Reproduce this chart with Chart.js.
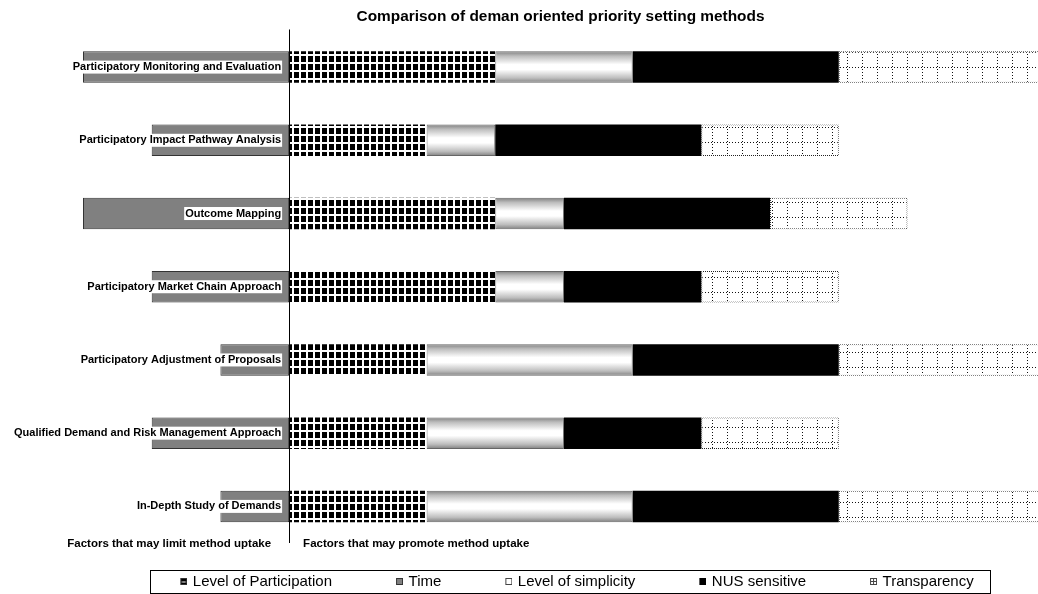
<!DOCTYPE html>
<html>
<head>
<meta charset="utf-8">
<script src="https://cdn.jsdelivr.net/npm/chart.js@4/dist/chart.umd.min.js"></script>
<style>
  body { margin: 0; background: #fff; }
</style>
</head>
<body>
<canvas id="chart" width="1038" height="594"></canvas>
<script>
// Methods, top to bottom
const methods = [
  'Participatory Monitoring and Evaluation',
  'Participatory Impact Pathway Analysis',
  'Outcome Mapping',
  'Participatory Market Chain Approach',
  'Participatory Adjustment of Proposals',
  'Qualified Demand and Risk Management Approach',
  'In-Depth Study of Demands'
];
const seriesNames = ['Level of Participation', 'Time', 'Level of simplicity', 'NUS sensitive', 'Transparency'];
const participation = [3, 2, 3, 3, 2, 2, 2];
const time = [-3, -2, -3, -2, -1, -2, -1];
const simplicity = [2, 1, 1, 1, 3, 2, 3];
const nusSensitive = [3, 3, 3, 2, 3, 2, 3];
const transparency = [3, 2, 2, 2, 3, 2, 3];
const axisMin = -3;
const axisMax = 10.9;

const leftCaption = 'Factors that may limit method uptake';
const rightCaption = 'Factors that may promote method uptake';

const FONT = '"Liberation Sans", Arial, sans-serif';
const BAR_PCT = 0.43;
Chart.defaults.font.family = FONT;
Chart.defaults.color = '#000';

const canvas = document.getElementById('chart');
const ctx = canvas.getContext('2d');

// small helper to paint a tile on an offscreen canvas
function makeTile(w, h, draw) {
  const c = document.createElement('canvas');
  c.width = w;
  c.height = h;
  draw(c.getContext('2d'));
  return c;
}

// black squares with white gaps
const squaresPattern = ctx.createPattern(makeTile(7, 8, g => {
  g.fillStyle = '#fff';
  g.fillRect(0, 0, 7, 8);
  g.fillStyle = '#000';
  g.fillRect(0, 0, 5, 6);
}), 'repeat');

// white with dotted grid
const dottedGrid = ctx.createPattern(makeTile(15, 15, g => {
  g.fillStyle = '#fff';
  g.fillRect(0, 0, 15, 15);
  g.fillStyle = '#111';
  for (let i = 0; i < 15; i += 3) {
    g.fillRect(7, i, 1, 1);
    g.fillRect(i, 7, 1, 1);
  }
}), 'repeat');

// dotted border
const dottedBorder = ctx.createPattern(makeTile(2, 2, g => {
  g.fillStyle = '#fff';
  g.fillRect(0, 0, 2, 2);
  g.fillStyle = '#222';
  g.fillRect(0, 0, 1, 1);
  g.fillRect(1, 1, 1, 1);
}), 'repeat');

// grey-white-grey tube gradient for each bar
function tubeFill(c) {
  const chart = c.chart;
  const y = chart.scales && chart.scales.y;
  if (!chart.chartArea || !y) return '#d8d8d8';
  const mid = y.getPixelForValue(c.dataIndex || 0);
  const half = Math.abs(y.getPixelForValue(1) - y.getPixelForValue(0)) * BAR_PCT / 2;
  if (!isFinite(mid) || !isFinite(half)) return '#d8d8d8';
  const g = chart.ctx.createLinearGradient(0, mid - half, 0, mid + half);
  g.addColorStop(0, '#7f7f7f');
  g.addColorStop(0.15, '#bdbdbd');
  g.addColorStop(0.42, '#ffffff');
  g.addColorStop(0.58, '#ffffff');
  g.addColorStop(0.85, '#bdbdbd');
  g.addColorStop(1, '#7f7f7f');
  return g;
}

// legend icons: blank space on the left, small square at the right end
// (the image is a bit wider than the legend box so the square sits close to the text)
const ICON_W = 38;
const ICON_IMG_W = ICON_W + 4;
function legendIcon(draw) {
  return makeTile(ICON_IMG_W, 9, g => {
    g.translate(ICON_IMG_W - 7 + 0.5, 1.5);
    draw(g);
  });
}
const legendIcons = [
  legendIcon(g => {
    g.fillStyle = '#000'; g.fillRect(0, 0, 6, 6);
    g.strokeStyle = '#333'; g.strokeRect(0, 0, 6, 6);
    g.strokeStyle = '#fff'; g.beginPath(); g.moveTo(1, 3.5); g.lineTo(5, 3.5); g.stroke();
  }),
  legendIcon(g => {
    g.fillStyle = '#808080'; g.fillRect(0, 0, 6, 6);
    g.strokeStyle = '#333'; g.strokeRect(0, 0, 6, 6);
  }),
  legendIcon(g => {
    g.fillStyle = '#fff'; g.fillRect(0, 0, 6, 6);
    g.strokeStyle = '#444'; g.strokeRect(0, 0, 6, 6);
  }),
  legendIcon(g => {
    g.fillStyle = '#000'; g.fillRect(-0.5, -0.5, 7, 7);
  }),
  legendIcon(g => {
    g.fillStyle = '#fff'; g.fillRect(0, 0, 6, 6);
    g.strokeStyle = '#444'; g.strokeRect(0, 0, 6, 6);
    g.fillStyle = '#444'; g.fillRect(2.5, 0, 1, 6); g.fillRect(0, 2.5, 6, 1);
  })
];

// method names on the bars, zero line, captions and legend frame
const decorations = {
  id: 'decorations',
  afterDatasetsDraw(chart) {
    const { ctx, chartArea, scales: { x, y } } = chart;
    const zero = x.getPixelForValue(0);
    ctx.save();
    ctx.font = 'bold 11px ' + FONT;
    ctx.textAlign = 'right';
    ctx.textBaseline = 'middle';
    methods.forEach((name, i) => {
      const cy = y.getPixelForValue(i);
      const w = ctx.measureText(name).width;
      ctx.fillStyle = '#fff';
      ctx.fillRect(zero - 9 - w, cy - 6.5, w + 2, 13);
      ctx.fillStyle = '#000';
      ctx.fillText(name, zero - 8, cy);
    });

    const lx = Math.round(zero) + 0.5;
    ctx.strokeStyle = '#000';
    ctx.lineWidth = 1;
    ctx.beginPath();
    ctx.moveTo(lx, chartArea.top - 1);
    ctx.lineTo(lx, chartArea.bottom);
    ctx.stroke();
    ctx.restore();
  },
  afterDraw(chart) {
    const { ctx, chartArea, scales: { x } } = chart;
    const zero = x.getPixelForValue(0);
    ctx.save();
    ctx.font = 'bold 11.5px ' + FONT;
    ctx.fillStyle = '#000';
    ctx.textBaseline = 'middle';
    ctx.textAlign = 'right';
    ctx.fillText(leftCaption, zero - 18, chartArea.bottom + 1);
    ctx.textAlign = 'left';
    ctx.fillText(rightCaption, zero + 14, chartArea.bottom + 1);

    const boxes = chart.legend.legendHitBoxes;
    if (boxes && boxes.length) {
      const first = boxes[0];
      const last = boxes[boxes.length - 1];
      const left = Math.round(first.left + ICON_W - 35) + 0.5;
      const right = Math.round(last.left + last.width + 16) + 0.5;
      const top = Math.round(first.top - 4) + 0.5;
      ctx.strokeStyle = '#000';
      ctx.lineWidth = 1;
      ctx.strokeRect(left, top, right - left, 23);
    }
    ctx.restore();
  }
};

const common = { borderSkipped: false, barPercentage: BAR_PCT, categoryPercentage: 1 };

new Chart(ctx, {
  type: 'bar',
  data: {
    labels: methods,
    datasets: [
      { ...common, label: seriesNames[0], data: participation, backgroundColor: squaresPattern, borderWidth: 0 },
      { ...common, label: seriesNames[1], data: time, backgroundColor: '#808080', borderColor: '#333', borderWidth: 1 },
      { ...common, label: seriesNames[2], data: simplicity, backgroundColor: tubeFill, borderColor: '#666', borderWidth: 1 },
      { ...common, label: seriesNames[3], data: nusSensitive, backgroundColor: '#000', borderWidth: 0 },
      { ...common, label: seriesNames[4], data: transparency, backgroundColor: dottedGrid, borderColor: dottedBorder, borderWidth: 1 }
    ]
  },
  options: {
    indexAxis: 'y',
    responsive: false,
    animation: false,
    layout: { padding: { left: 83, right: 0, top: 0, bottom: 0 } },
    scales: {
      x: { stacked: true, min: axisMin, max: axisMax, display: false },
      y: { stacked: true, display: false }
    },
    plugins: {
      title: {
        display: true,
        text: 'Comparison of deman oriented priority setting methods',
        color: '#000',
        font: { size: 15.4, weight: 'bold' },
        padding: { top: 8, bottom: 4 }
      },
      legend: {
        position: 'bottom',
        maxHeight: 51,
        labels: {
          color: '#000',
          font: { size: 15 },
          usePointStyle: true,
          pointStyleWidth: ICON_W,
          padding: 31,
          generateLabels: chart =>
            Chart.defaults.plugins.legend.labels.generateLabels(chart)
              .map((item, i) => ({ ...item, pointStyle: legendIcons[i] }))
        }
      },
      tooltip: { enabled: false }
    }
  },
  plugins: [decorations]
});
</script>
</body>
</html>
